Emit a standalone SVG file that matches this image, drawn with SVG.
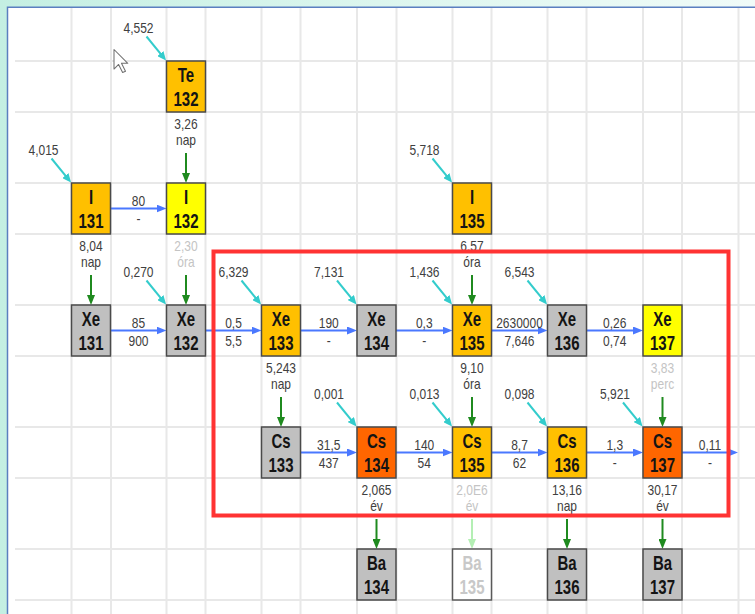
<svg xmlns="http://www.w3.org/2000/svg" width="755" height="614" viewBox="0 0 755 614">
<defs>
<linearGradient id="bg" x1="0" y1="0" x2="1" y2="0">
<stop offset="0" stop-color="#c4efe2"/>
<stop offset="0.5" stop-color="#dcf6ee"/>
<stop offset="1" stop-color="#f0fbf8"/>
</linearGradient>
<marker id="mb" viewBox="0 0 10 8" refX="6" refY="4" markerWidth="10" markerHeight="8" orient="auto" markerUnits="userSpaceOnUse"><path d="M0,0 L10,4 L0,8 z" fill="#4a78ff"/></marker>
<marker id="mg" viewBox="0 0 8 10" refX="4" refY="6" markerWidth="8" markerHeight="10" orient="0" markerUnits="userSpaceOnUse"><path d="M0,0 L8,0 L4,10 z" fill="#1f8a1f"/></marker>
<marker id="ml" viewBox="0 0 8 10" refX="4" refY="6" markerWidth="8" markerHeight="10" orient="0" markerUnits="userSpaceOnUse"><path d="M0,0 L8,0 L4,10 z" fill="#b4efb4"/></marker>
<marker id="mc" viewBox="0 0 9 8" refX="5" refY="4" markerWidth="9" markerHeight="8" orient="auto" markerUnits="userSpaceOnUse"><path d="M0,0 L9,4 L0,8 z" fill="#33cccc"/></marker>
<style>
.grid line{stroke:#e8e8e8;stroke-width:2}
.box{stroke:#4a4a4a;stroke-width:1.5}
.or{fill:#ffc000}.ye{fill:#ffff00}.gr{fill:#c0c0c0}.rd{fill:#ff6600}.wh{fill:#ffffff}
.sym{font-family:"Liberation Sans",Arial,sans-serif;font-weight:bold;font-size:15px;text-anchor:middle;fill:#141414}
.lbl{font-family:"Liberation Sans",Arial,sans-serif;font-size:12px;text-anchor:middle;fill:#404040}
.faint{fill:#c4c4c4}
.blue{stroke:#4a78ff;stroke-width:2;fill:none;marker-end:url(#mb)}
.green{stroke:#1f8a1f;stroke-width:2;fill:none;marker-end:url(#mg)}
.lgreen{stroke:#b4efb4;stroke-width:2;fill:none;marker-end:url(#ml)}
.cyan{stroke:#33cccc;stroke-width:2;fill:none;marker-end:url(#mc)}
</style>
</defs>
<rect x="0" y="0" width="755" height="614" fill="url(#bg)"/>
<rect x="8" y="7.5" width="747" height="606.5" fill="#ffffff"/>
<path d="M7.5,614 L7.5,7.3 L755,7.3" fill="none" stroke="#5b7fc0" stroke-width="1.5"/>
<g class="grid">
<line x1="71.5" y1="8" x2="71.5" y2="614"/><line x1="111" y1="8" x2="111" y2="614"/>
<line x1="166.5" y1="8" x2="166.5" y2="614"/><line x1="205.5" y1="8" x2="205.5" y2="614"/>
<line x1="261.5" y1="8" x2="261.5" y2="614"/><line x1="300.5" y1="8" x2="300.5" y2="614"/>
<line x1="357" y1="8" x2="357" y2="614"/><line x1="396.5" y1="8" x2="396.5" y2="614"/>
<line x1="452.5" y1="8" x2="452.5" y2="614"/><line x1="491.5" y1="8" x2="491.5" y2="614"/>
<line x1="547.5" y1="8" x2="547.5" y2="614"/><line x1="586.5" y1="8" x2="586.5" y2="614"/>
<line x1="643" y1="8" x2="643" y2="614"/><line x1="682" y1="8" x2="682" y2="614"/>
<line x1="738.5" y1="8" x2="738.5" y2="614"/>
<line x1="15" y1="61" x2="755" y2="61"/><line x1="15" y1="112" x2="755" y2="112"/>
<line x1="15" y1="183" x2="755" y2="183"/><line x1="15" y1="234" x2="755" y2="234"/>
<line x1="15" y1="305" x2="755" y2="305"/><line x1="15" y1="356" x2="755" y2="356"/>
<line x1="15" y1="427" x2="755" y2="427"/><line x1="15" y1="478" x2="755" y2="478"/>
<line x1="15" y1="549" x2="755" y2="549"/><line x1="15" y1="600" x2="755" y2="600"/>
</g>
<path d="M0,0 L0,17 L4,13 L7.5,20 L10,19 L6.5,12 L12,12 Z" fill="#ffffff" stroke="#707070" stroke-width="0.9" stroke-linejoin="round" transform="translate(114,49.5) scale(1.15)"/>

<g id="connectors">
<line class="cyan" x1="146.5" y1="36.5" x2="163.5" y2="57.4"/>
<line class="cyan" x1="51.5" y1="158.5" x2="68.5" y2="179.4"/>
<line class="cyan" x1="432.5" y1="158.5" x2="449.5" y2="179.4"/>
<line class="cyan" x1="146.5" y1="280.5" x2="163.5" y2="301.4"/>
<line class="cyan" x1="241.5" y1="280.5" x2="258.5" y2="301.4"/>
<line class="cyan" x1="337" y1="280.5" x2="354" y2="301.4"/>
<line class="cyan" x1="432.5" y1="280.5" x2="449.5" y2="301.4"/>
<line class="cyan" x1="527.5" y1="280.5" x2="544.5" y2="301.4"/>
<line class="cyan" x1="337" y1="402.5" x2="354" y2="423.4"/>
<line class="cyan" x1="432.5" y1="402.5" x2="449.5" y2="423.4"/>
<line class="cyan" x1="527.5" y1="402.5" x2="544.5" y2="423.4"/>
<line class="cyan" x1="623" y1="402.5" x2="640" y2="423.4"/>
<g class="lbl">
<text transform="translate(138.5,32.5) scale(1,1.2)">4,552</text>
<text transform="translate(43.5,154.5) scale(1,1.2)">4,015</text>
<text transform="translate(424.5,154.5) scale(1,1.2)">5,718</text>
<text transform="translate(138.5,276.5) scale(1,1.2)">0,270</text>
<text transform="translate(233.5,276.5) scale(1,1.2)">6,329</text>
<text transform="translate(329,276.5) scale(1,1.2)">7,131</text>
<text transform="translate(424.5,276.5) scale(1,1.2)">1,436</text>
<text transform="translate(519.5,276.5) scale(1,1.2)">6,543</text>
<text transform="translate(329,398.5) scale(1,1.2)">0,001</text>
<text transform="translate(424.5,398.5) scale(1,1.2)">0,013</text>
<text transform="translate(519.5,398.5) scale(1,1.2)">0,098</text>
<text transform="translate(615,398.5) scale(1,1.2)">5,921</text>
</g>
<line class="blue" x1="110.5" y1="208.5" x2="162.5" y2="208.5"/>
<line class="blue" x1="110.5" y1="330.5" x2="162.5" y2="330.5"/>
<line class="blue" x1="205.5" y1="330.5" x2="257.5" y2="330.5"/>
<line class="blue" x1="300.5" y1="330.5" x2="353" y2="330.5"/>
<line class="blue" x1="396" y1="330.5" x2="448.5" y2="330.5"/>
<line class="blue" x1="491.5" y1="330.5" x2="543.5" y2="330.5"/>
<line class="blue" x1="586.5" y1="330.5" x2="639" y2="330.5"/>
<line class="blue" x1="300.5" y1="452.5" x2="353" y2="452.5"/>
<line class="blue" x1="396" y1="452.5" x2="448.5" y2="452.5"/>
<line class="blue" x1="491.5" y1="452.5" x2="543.5" y2="452.5"/>
<line class="blue" x1="586.5" y1="452.5" x2="639" y2="452.5"/>
<line class="blue" x1="682" y1="452.5" x2="734" y2="452.5"/>
<g class="lbl">
<text transform="translate(138.5,206) scale(1,1.2)">80</text><text transform="translate(138.5,224) scale(1,1.2)">-</text>
<text transform="translate(138.5,328) scale(1,1.2)">85</text><text transform="translate(138.5,346) scale(1,1.2)">900</text>
<text transform="translate(233.5,328) scale(1,1.2)">0,5</text><text transform="translate(233.5,346) scale(1,1.2)">5,5</text>
<text transform="translate(328.75,328) scale(1,1.2)">190</text><text transform="translate(328.75,346) scale(1,1.2)">-</text>
<text transform="translate(424.25,328) scale(1,1.2)">0,3</text><text transform="translate(424.25,346) scale(1,1.2)">-</text>
<text transform="translate(519.5,328) scale(1,1.2)">2630000</text><text transform="translate(519.5,346) scale(1,1.2)">7,646</text>
<text transform="translate(614.75,328) scale(1,1.2)">0,26</text><text transform="translate(614.75,346) scale(1,1.2)">0,74</text>
<text transform="translate(328.75,450) scale(1,1.2)">31,5</text><text transform="translate(328.75,468) scale(1,1.2)">437</text>
<text transform="translate(424.25,450) scale(1,1.2)">140</text><text transform="translate(424.25,468) scale(1,1.2)">54</text>
<text transform="translate(519.5,450) scale(1,1.2)">8,7</text><text transform="translate(519.5,468) scale(1,1.2)">62</text>
<text transform="translate(614.75,450) scale(1,1.2)">1,3</text><text transform="translate(614.75,468) scale(1,1.2)">-</text>
<text transform="translate(710,450) scale(1,1.2)">0,11</text><text transform="translate(710,468) scale(1,1.2)">-</text>
</g>
<line class="green" x1="186" y1="153" x2="186" y2="179"/>
<line class="green" x1="91" y1="275" x2="91" y2="301"/>
<line class="green" x1="186" y1="275" x2="186" y2="301"/>
<line class="green" x1="472" y1="275" x2="472" y2="301"/>
<line class="green" x1="281" y1="397" x2="281" y2="423"/>
<line class="green" x1="472" y1="397" x2="472" y2="423"/>
<line class="green" x1="662.5" y1="397" x2="662.5" y2="423"/>
<line class="green" x1="376.5" y1="519" x2="376.5" y2="545"/>
<line class="lgreen" x1="472" y1="519" x2="472" y2="545"/>
<line class="green" x1="567" y1="519" x2="567" y2="545"/>
<line class="green" x1="662.5" y1="519" x2="662.5" y2="545"/>
</g>

<g id="n-te132"><rect class="box or" x="166.5" y="61" width="39" height="51"/><text class="sym" transform="translate(186,81.5) scale(1,1.3)">Te</text><text class="sym" transform="translate(186,106) scale(1,1.3)">132</text>
<text class="lbl" transform="translate(186,128.5) scale(1,1.2)">3,26</text><text class="lbl" transform="translate(186,144.5) scale(1,1.2)">nap</text></g>
<g id="n-i131"><rect class="box or" x="71.5" y="183" width="39" height="51"/><text class="sym" transform="translate(91,203.5) scale(1,1.3)">I</text><text class="sym" transform="translate(91,228) scale(1,1.3)">131</text>
<text class="lbl" transform="translate(91,250.5) scale(1,1.2)">8,04</text><text class="lbl" transform="translate(91,266.5) scale(1,1.2)">nap</text></g>
<g id="n-i132"><rect class="box ye" x="166.5" y="183" width="39" height="51"/><text class="sym" transform="translate(186,203.5) scale(1,1.3)">I</text><text class="sym" transform="translate(186,228) scale(1,1.3)">132</text>
<text class="lbl faint" transform="translate(186,250.5) scale(1,1.2)">2,30</text><text class="lbl faint" transform="translate(186,266.5) scale(1,1.2)">óra</text></g>
<g id="n-i135"><rect class="box or" x="452.5" y="183" width="39" height="51"/><text class="sym" transform="translate(472,203.5) scale(1,1.3)">I</text><text class="sym" transform="translate(472,228) scale(1,1.3)">135</text>
<text class="lbl" transform="translate(472,250.5) scale(1,1.2)">6,57</text><text class="lbl" transform="translate(472,266.5) scale(1,1.2)">óra</text></g>

<g id="n-xe131"><rect class="box gr" x="71.5" y="305" width="39" height="51"/><text class="sym" transform="translate(91,325.5) scale(1,1.3)">Xe</text><text class="sym" transform="translate(91,350) scale(1,1.3)">131</text></g>
<g id="n-xe132"><rect class="box gr" x="166.5" y="305" width="39" height="51"/><text class="sym" transform="translate(186,325.5) scale(1,1.3)">Xe</text><text class="sym" transform="translate(186,350) scale(1,1.3)">132</text></g>
<g id="n-xe133"><rect class="box or" x="261.5" y="305" width="39" height="51"/><text class="sym" transform="translate(281,325.5) scale(1,1.3)">Xe</text><text class="sym" transform="translate(281,350) scale(1,1.3)">133</text>
<text class="lbl" transform="translate(281,372.5) scale(1,1.2)">5,243</text><text class="lbl" transform="translate(281,388.5) scale(1,1.2)">nap</text></g>
<g id="n-xe134"><rect class="box gr" x="357" y="305" width="39" height="51"/><text class="sym" transform="translate(376.5,325.5) scale(1,1.3)">Xe</text><text class="sym" transform="translate(376.5,350) scale(1,1.3)">134</text></g>
<g id="n-xe135"><rect class="box or" x="452.5" y="305" width="39" height="51"/><text class="sym" transform="translate(472,325.5) scale(1,1.3)">Xe</text><text class="sym" transform="translate(472,350) scale(1,1.3)">135</text>
<text class="lbl" transform="translate(472,372.5) scale(1,1.2)">9,10</text><text class="lbl" transform="translate(472,388.5) scale(1,1.2)">óra</text></g>
<g id="n-xe136"><rect class="box gr" x="547.5" y="305" width="39" height="51"/><text class="sym" transform="translate(567,325.5) scale(1,1.3)">Xe</text><text class="sym" transform="translate(567,350) scale(1,1.3)">136</text></g>
<g id="n-xe137"><rect class="box ye" x="643" y="305" width="39" height="51"/><text class="sym" transform="translate(662.5,325.5) scale(1,1.3)">Xe</text><text class="sym" transform="translate(662.5,350) scale(1,1.3)">137</text>
<text class="lbl faint" transform="translate(662.5,372.5) scale(1,1.2)">3,83</text><text class="lbl faint" transform="translate(662.5,388.5) scale(1,1.2)">perc</text></g>

<g id="n-cs133"><rect class="box gr" x="261.5" y="427" width="39" height="51"/><text class="sym" transform="translate(281,447.5) scale(1,1.3)">Cs</text><text class="sym" transform="translate(281,472) scale(1,1.3)">133</text></g>
<g id="n-cs134"><rect class="box rd" x="357" y="427" width="39" height="51"/><text class="sym" transform="translate(376.5,447.5) scale(1,1.3)">Cs</text><text class="sym" transform="translate(376.5,472) scale(1,1.3)">134</text>
<text class="lbl" transform="translate(376.5,494.5) scale(1,1.2)">2,065</text><text class="lbl" transform="translate(376.5,510.5) scale(1,1.2)">év</text></g>
<g id="n-cs135"><rect class="box or" x="452.5" y="427" width="39" height="51"/><text class="sym" transform="translate(472,447.5) scale(1,1.3)">Cs</text><text class="sym" transform="translate(472,472) scale(1,1.3)">135</text>
<text class="lbl faint" transform="translate(472,494.5) scale(1,1.2)">2,0E6</text><text class="lbl faint" transform="translate(472,510.5) scale(1,1.2)">év</text></g>
<g id="n-cs136"><rect class="box or" x="547.5" y="427" width="39" height="51"/><text class="sym" transform="translate(567,447.5) scale(1,1.3)">Cs</text><text class="sym" transform="translate(567,472) scale(1,1.3)">136</text>
<text class="lbl" transform="translate(567,494.5) scale(1,1.2)">13,16</text><text class="lbl" transform="translate(567,510.5) scale(1,1.2)">nap</text></g>
<g id="n-cs137"><rect class="box rd" x="643" y="427" width="39" height="51"/><text class="sym" transform="translate(662.5,447.5) scale(1,1.3)">Cs</text><text class="sym" transform="translate(662.5,472) scale(1,1.3)">137</text>
<text class="lbl" transform="translate(662.5,494.5) scale(1,1.2)">30,17</text><text class="lbl" transform="translate(662.5,510.5) scale(1,1.2)">év</text></g>

<g id="n-ba134"><rect class="box gr" x="357" y="549" width="39" height="51"/><text class="sym" transform="translate(376.5,569.5) scale(1,1.3)">Ba</text><text class="sym" transform="translate(376.5,594) scale(1,1.3)">134</text></g>
<g id="n-ba135"><rect class="box wh" x="452.5" y="549" width="39" height="51" style="stroke:#5a5a5a"/><text class="sym" style="fill:#c8c8c8" transform="translate(472,569.5) scale(1,1.3)">Ba</text><text class="sym" style="fill:#c8c8c8" transform="translate(472,594) scale(1,1.3)">135</text></g>
<g id="n-ba136"><rect class="box gr" x="547.5" y="549" width="39" height="51"/><text class="sym" transform="translate(567,569.5) scale(1,1.3)">Ba</text><text class="sym" transform="translate(567,594) scale(1,1.3)">136</text></g>
<g id="n-ba137"><rect class="box gr" x="643" y="549" width="39" height="51"/><text class="sym" transform="translate(662.5,569.5) scale(1,1.3)">Ba</text><text class="sym" transform="translate(662.5,594) scale(1,1.3)">137</text></g>

<rect x="213.5" y="251.5" width="515" height="264" fill="none" stroke="#ff3333" stroke-width="4"/>
</svg>
